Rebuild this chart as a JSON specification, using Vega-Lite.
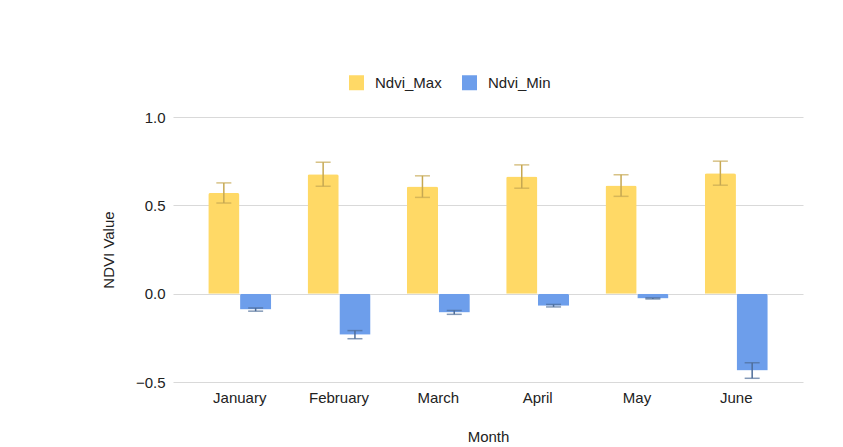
{
  "$schema": "https://vega.github.io/schema/vega-lite/v6.json",
  "width": 630,
  "height": 265,
  "autosize": "none",
  "padding": {"left": 173, "top": 117, "right": 40, "bottom": 65},
  "background": "white",
  "config": {
    "font": "Liberation Sans",
    "view": {"stroke": null},
    "axis": {"labelColor": "#222222", "titleColor": "#222222", "labelFontSize": 15, "titleFontSize": 15, "titleFontWeight": "normal", "labelFont": "Liberation Sans", "titleFont": "Liberation Sans"}
  },
  "data": {
    "values": [
      {"month": "January", "series": "Ndvi_Max", "value": 0.570, "lo": 0.513, "hi": 0.627},
      {"month": "January", "series": "Ndvi_Min", "value": -0.090, "lo": -0.099, "hi": -0.081},
      {"month": "February", "series": "Ndvi_Max", "value": 0.676, "lo": 0.608, "hi": 0.744},
      {"month": "February", "series": "Ndvi_Min", "value": -0.232, "lo": -0.255, "hi": -0.209},
      {"month": "March", "series": "Ndvi_Max", "value": 0.606, "lo": 0.545, "hi": 0.667},
      {"month": "March", "series": "Ndvi_Min", "value": -0.106, "lo": -0.117, "hi": -0.095},
      {"month": "April", "series": "Ndvi_Max", "value": 0.663, "lo": 0.597, "hi": 0.729},
      {"month": "April", "series": "Ndvi_Min", "value": -0.068, "lo": -0.075, "hi": -0.061},
      {"month": "May", "series": "Ndvi_Max", "value": 0.612, "lo": 0.551, "hi": 0.673},
      {"month": "May", "series": "Ndvi_Min", "value": -0.027, "lo": -0.030, "hi": -0.024},
      {"month": "June", "series": "Ndvi_Max", "value": 0.682, "lo": 0.614, "hi": 0.750},
      {"month": "June", "series": "Ndvi_Min", "value": -0.435, "lo": -0.479, "hi": -0.391}
    ]
  },
  "encoding": {
    "x": {
      "field": "month", "type": "nominal", "sort": ["January", "February", "March", "April", "May", "June"],
      "scale": {"paddingInner": 0.366, "paddingOuter": 0.355},
      "axis": {"title": "Month", "labelAngle": 0, "ticks": false, "domain": false, "labelPadding": 8, "titlePadding": 24}
    },
    "xOffset": {"field": "series", "type": "nominal", "scale": {"paddingInner": 0.02}}
  },
  "layer": [
    {
      "mark": {"type": "bar", "cornerRadiusEnd": 2},
      "encoding": {
        "y": {
          "field": "value", "type": "quantitative",
          "scale": {"domain": [-0.5, 1.0], "nice": false},
          "axis": {"title": "NDVI Value", "values": [-0.5, 0, 0.5, 1.0], "format": ".1f", "ticks": false, "domain": false, "labelPadding": 8, "gridColor": "#d9d9d9", "gridWidth": 1, "titlePadding": 19}
        },
        "color": {
          "field": "series", "type": "nominal",
          "scale": {"domain": ["Ndvi_Max", "Ndvi_Min"], "range": ["#FFD966", "#6D9EEB"]},
          "legend": {"title": null, "orient": "none", "direction": "horizontal", "legendX": 176, "legendY": -42, "symbolType": "square", "symbolSize": 225, "symbolStrokeWidth": 0, "labelFontSize": 15, "labelColor": "#222222", "labelOffset": 11, "columnPadding": 20, "labelFont": "Liberation Sans"}
        }
      }
    },
    {
      "mark": {"type": "rule", "strokeWidth": 1.5},
      "encoding": {
        "y": {"field": "lo", "type": "quantitative"},
        "y2": {"field": "hi"},
        "color": {"field": "series", "type": "nominal", "scale": {"domain": ["Ndvi_Max", "Ndvi_Min"], "range": ["#C6A852", "#4E6D99"]}, "legend": null}
      }
    },
    {
      "mark": {"type": "tick", "size": 15, "thickness": 1.5, "orient": "horizontal"},
      "encoding": {
        "y": {"field": "lo", "type": "quantitative"},
        "color": {"field": "series", "type": "nominal", "scale": {"domain": ["Ndvi_Max", "Ndvi_Min"], "range": ["#C6A852", "#4E6D99"]}, "legend": null}
      }
    },
    {
      "mark": {"type": "tick", "size": 15, "thickness": 1.5, "orient": "horizontal"},
      "encoding": {
        "y": {"field": "hi", "type": "quantitative"},
        "color": {"field": "series", "type": "nominal", "scale": {"domain": ["Ndvi_Max", "Ndvi_Min"], "range": ["#C6A852", "#4E6D99"]}, "legend": null}
      }
    },
    {
      "mark": {"type": "rule", "color": "#222222", "strokeWidth": 1},
      "encoding": {"y": {"datum": 0, "type": "quantitative"}}
    }
  ],
  "resolve": {"scale": {"color": "independent"}}
}
